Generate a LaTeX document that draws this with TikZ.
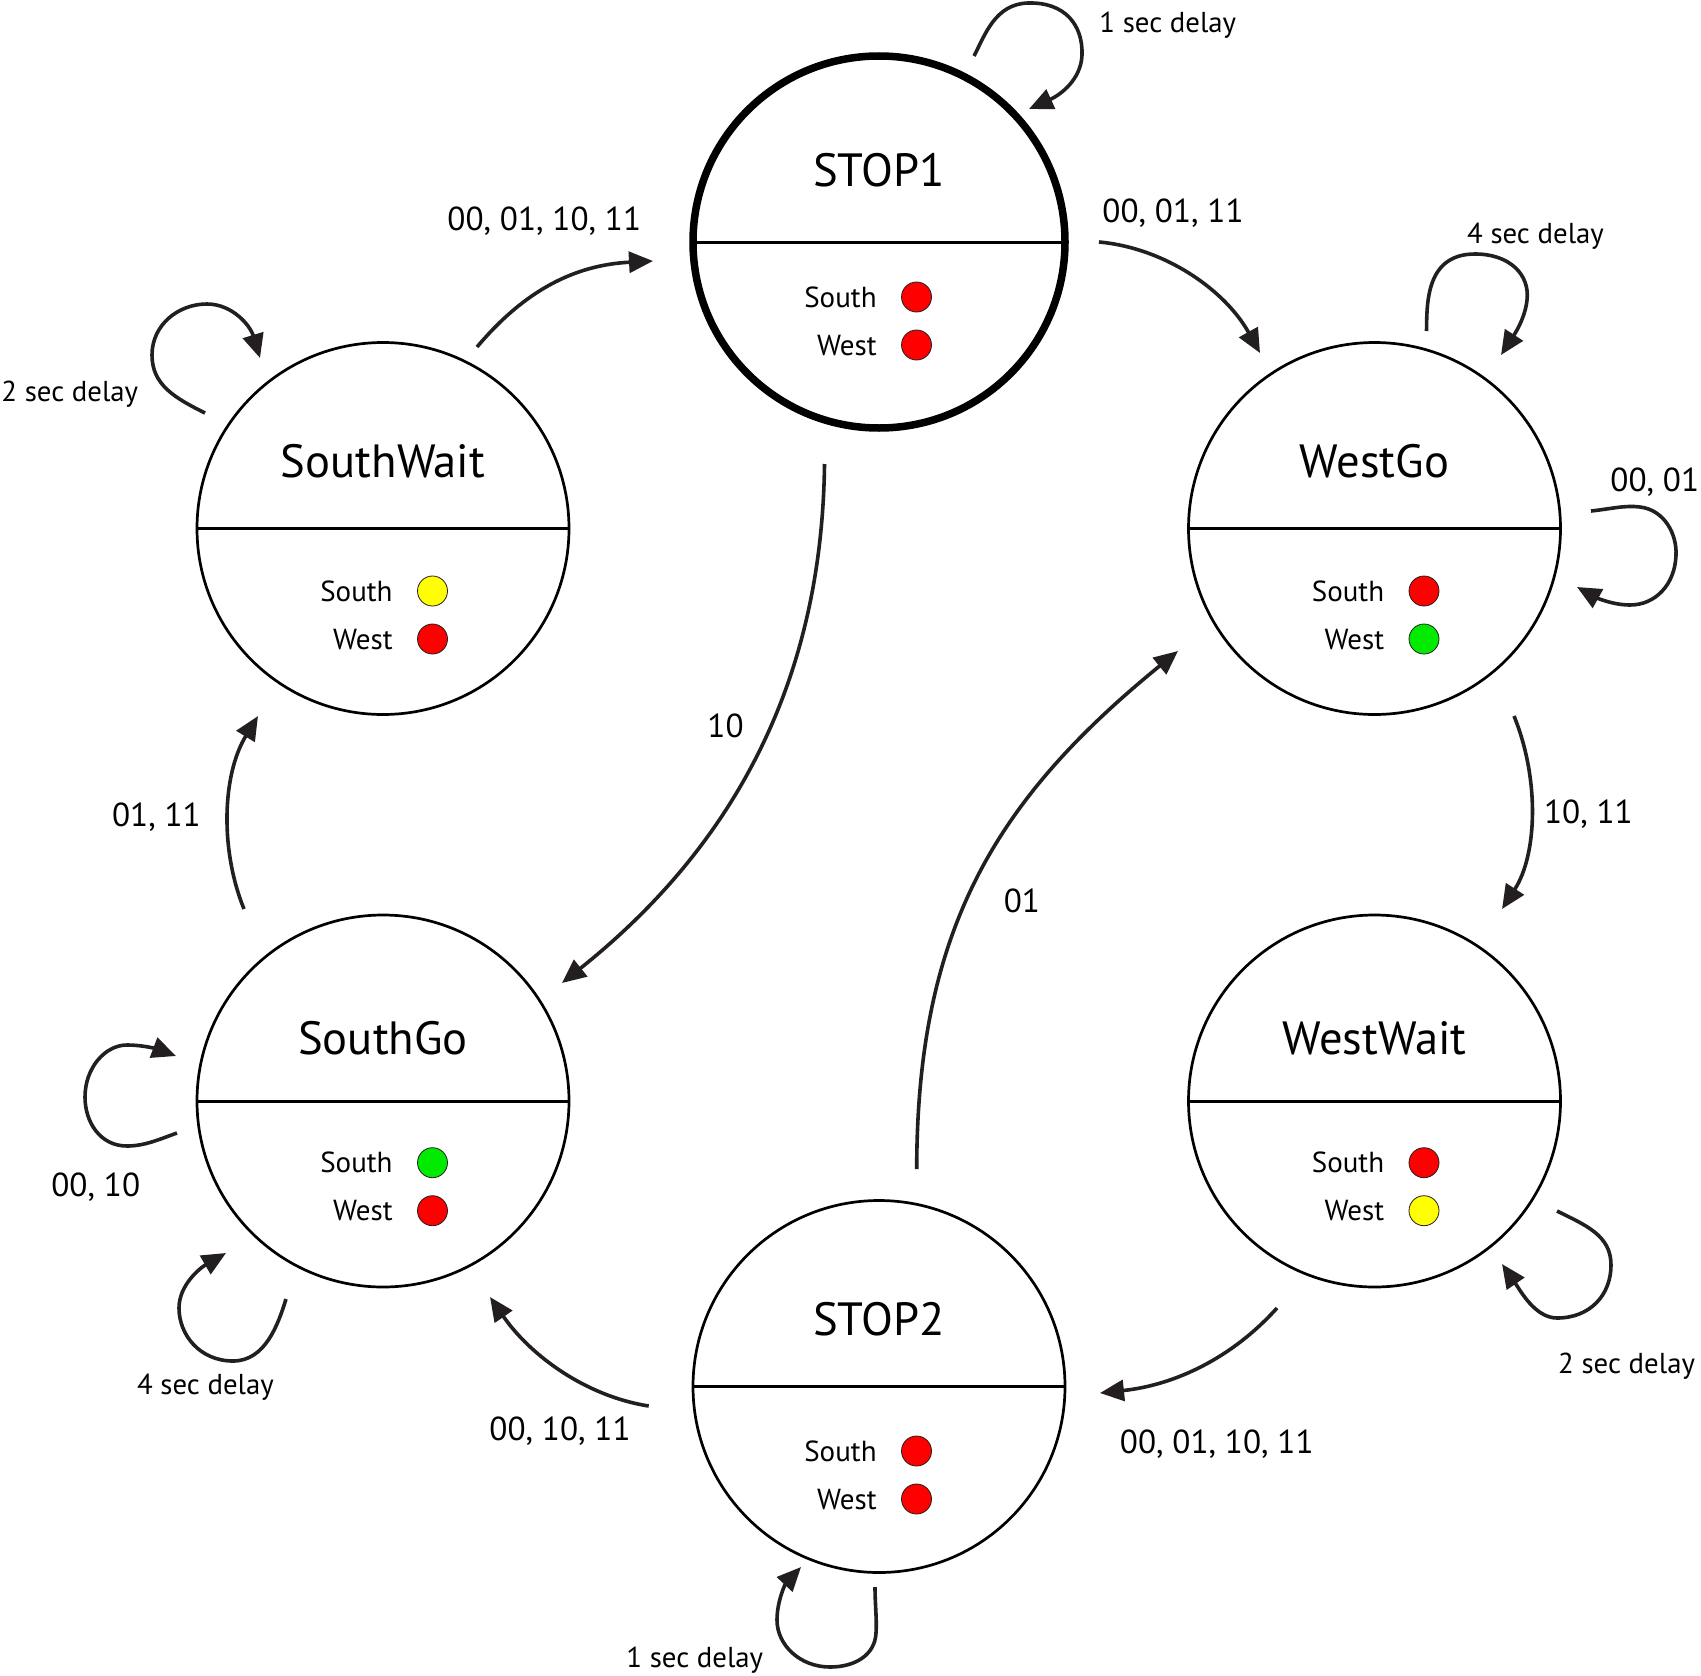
\documentclass[tikz,border=0pt]{standalone}
\usepackage{fontspec}
\setmainfont{PT Sans}
\usetikzlibrary{arrows.meta,calc}
\definecolor{ln}{RGB}{35,31,32}
\definecolor{lred}{RGB}{255,0,0}
\definecolor{lyel}{RGB}{255,255,0}
\definecolor{lgrn}{RGB}{0,235,0}
\newcommand\mystate[9]{%
  \node[#1] (#2) at #3 {};
  \draw[divider] (#2.west) -- (#2.east);
  \node[title] (#2-t) at ($(#2)+(0,#5)$) {#4};
  \node[lbl] (#2-s) at ($(#2)+(#9,#6)$) {South};
  \node[lbl] (#2-w) at ($(#2)+(#9,#6+48)$) {West};
  \node[lamp,fill=#7] (#2-sl) at ($(#2)+(#9+39.5,#6-10)$) {};
  \node[lamp,fill=#8] (#2-wl) at ($(#2)+(#9+39.5,#6+38)$) {};
}
\begin{document}
\begin{tikzpicture}[x=0.5pt,y=-0.5pt,
  state/.style={circle,draw=black,line width=1.35pt,minimum size=186pt,inner sep=0pt,outer sep=0pt},
  startstate/.style={state,line width=3.75pt},
  divider/.style={draw=black,line width=1.5pt},
  lamp/.style={circle,draw=ln,line width=0.4pt,minimum size=15pt,inner sep=0pt},
  title/.style={anchor=base,inner sep=0pt,font=\fontsize{23.3}{24}\selectfont},
  lbl/.style={anchor=base east,inner sep=0pt,font=\fontsize{14.5}{15}\selectfont},
  cond/.style={anchor=base west,inner sep=0pt,font=\fontsize{16.6}{17}\selectfont},
  delay/.style={anchor=base west,inner sep=0pt,font=\fontsize{14.4}{15}\selectfont},
  tr/.style={draw=ln,line width=1.8pt,-{Triangle[length=12pt,width=10.5pt]}},
]
\fill[white] (0,0) rectangle (1701,1675);
\useasboundingbox (0,0) rectangle (1701,1675);

% states
\mystate{startstate}{s1}{(879,242)}{STOP1}{-56}{65}{lred}{lred}{-2}
\mystate{state}{sw}{(383,528.5)}{SouthWait}{-51.5}{72.5}{lyel}{lred}{10}
\mystate{state}{wg}{(1374.5,528.5)}{WestGo}{-51.5}{72.5}{lred}{lgrn}{10}
\mystate{state}{sg}{(383,1101)}{SouthGo}{-46.5}{71.7}{lgrn}{lred}{10}
\mystate{state}{ww}{(1374.5,1101)}{WestWait}{-46.5}{71.7}{lred}{lyel}{10}
\mystate{state}{s2}{(879,1386.5)}{STOP2}{-51}{74.5}{lred}{lred}{-2}

% transitions between states
\coordinate (a1) at (477,347); \coordinate (a2) at (653,261);
\draw[tr] (a1) .. controls (525,290) and (575,265) .. (a2);
\coordinate (b1) at (1099,242); \coordinate (b2) at (1260,353);
\draw[tr] (b1) .. controls (1165,248) and (1225,290) .. (b2);
\coordinate (c1) at (824.5,464); \coordinate (c2) at (562,983);
\draw[tr] (c1) .. controls (822,680) and (735,845) .. (c2);
\coordinate (d1) at (916.7,1169); \coordinate (d2) at (1178,651);
\draw[tr] (d1) .. controls (917,930) and (995,800) .. (d2);
\coordinate (e1) at (1514,716); \coordinate (e2) at (1502,909);
\draw[tr] (e1) .. controls (1540,780) and (1537,855) .. (e2);
\coordinate (f1) at (1277,1308); \coordinate (f2) at (1100,1393);
\draw[tr] (f1) .. controls (1232,1358) and (1175,1385) .. (f2);
\coordinate (g1) at (648.7,1406); \coordinate (g2) at (490,1297);
\draw[tr] (g1) .. controls (585,1396) and (530,1355) .. (g2);
\coordinate (h1) at (244,909); \coordinate (h2) at (258,716);
\draw[tr] (h1) .. controls (220,850) and (222,775) .. (h2);

% self loops
\coordinate (l1a) at (974,56); \coordinate (l1b) at (1029,109);
\draw[tr] (l1a) .. controls (985,35) and (995,4) .. (1028,3)
  .. controls (1065,2) and (1083,25) .. (1082,55)
  .. controls (1081,80) and (1060,95) .. (l1b);
\coordinate (l2a) at (1426.5,331); \coordinate (l2b) at (1501,355);
\draw[tr] (l2a) .. controls (1427,305) and (1425,254) .. (1475,254)
  .. controls (1510,254) and (1530,275) .. (1527,300)
  .. controls (1525,320) and (1512,338) .. (l2b);
\coordinate (l3a) at (1591,511); \coordinate (l3b) at (1577,587);
\draw[tr] (l3a) .. controls (1610,509) and (1625,505) .. (1640,507)
  .. controls (1665,510) and (1677,535) .. (1676,555)
  .. controls (1675,585) and (1655,605) .. (1630,605)
  .. controls (1612,605) and (1595,597) .. (l3b);
\coordinate (l4a) at (205,413); \coordinate (l4b) at (260,358);
\draw[tr] (l4a) .. controls (175,398) and (152,385) .. (152,355)
  .. controls (152,325) and (178,304) .. (207,304)
  .. controls (232,304) and (250,325) .. (l4b);
\coordinate (l5a) at (177,1133); \coordinate (l5b) at (176,1056);
\draw[tr] (l5a) .. controls (160,1139) and (145,1146) .. (127,1146)
  .. controls (100,1146) and (85,1122) .. (85,1097)
  .. controls (85,1068) and (105,1045) .. (127,1045)
  .. controls (145,1045) and (160,1050) .. (l5b);
\coordinate (l6a) at (286,1299); \coordinate (l6b) at (226,1253);
\draw[tr] (l6a) .. controls (278,1325) and (265,1361) .. (233,1361)
  .. controls (200,1361) and (179,1335) .. (179,1308)
  .. controls (179,1285) and (200,1268) .. (l6b);
\coordinate (l7a) at (875,1587); \coordinate (l7b) at (801,1567);
\draw[tr] (l7a) .. controls (875,1605) and (877,1620) .. (876,1633)
  .. controls (875,1655) and (855,1667) .. (830,1667)
  .. controls (800,1667) and (777,1645) .. (777,1620)
  .. controls (777,1600) and (786,1583) .. (l7b);
\coordinate (l8a) at (1557,1211); \coordinate (l8b) at (1502,1264);
\draw[tr] (l8a) .. controls (1585,1225) and (1611,1235) .. (1611,1265)
  .. controls (1611,1295) and (1590,1318) .. (1557,1318)
  .. controls (1535,1318) and (1520,1290) .. (l8b);

% condition labels
\node[cond] (t1) at (447,230) {00, 01, 10, 11};
\node[cond] (t2) at (1102,222) {00, 01, 11};
\node[cond] (t3) at (707,737.7) {10};
\node[cond] (t4) at (1003.4,912.3) {01};
\node[cond] (t5) at (1543.7,823.4) {10, 11};
\node[cond] (t6) at (111.7,826.6) {01, 11};
\node[cond] (t7) at (489,1440.6) {00, 10, 11};
\node[cond] (t8) at (1119.5,1453.6) {00, 01, 10, 11};
\node[cond] (t9) at (1610,491.4) {00, 01};
\node[cond] (t10) at (51,1196.5) {00, 10};

% delay labels
\node[delay] (d-s1) at (1099,32.5) {1 sec delay};
\node[delay] (d-wg) at (1466.7,243) {4 sec delay};
\node[delay] (d-sw) at (1,401.4) {2 sec delay};
\node[delay] (d-ww) at (1557.8,1373.4) {2 sec delay};
\node[delay] (d-sg) at (136.7,1394) {4 sec delay};
\node[delay] (d-s2) at (626,1667) {1 sec delay};
\end{tikzpicture}
\end{document}
